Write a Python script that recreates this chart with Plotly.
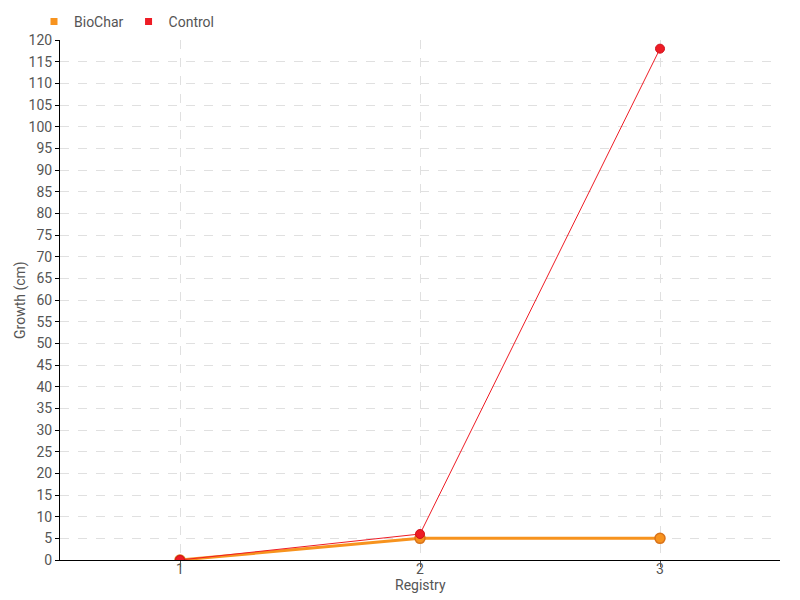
import plotly.graph_objects as go

registry = [1, 2, 3]
biochar = [0, 5, 5]
control = [0, 6, 118]

orange = "#f7931e"
red = "#ee1c25"
font_family = "Roboto, sans-serif"

fig = go.Figure()
fig.add_trace(go.Scatter(
    x=registry, y=biochar, name="BioChar", mode="lines+markers", showlegend=False,
    line=dict(color=orange, width=3),
    marker=dict(size=10, color=orange, line=dict(color="#d9731a", width=1.5)),
))
fig.add_trace(go.Scatter(
    x=registry, y=control, name="Control", mode="lines+markers", showlegend=False,
    line=dict(color=red, width=1),
    marker=dict(size=9, color=red, line=dict(color="#d0101a", width=1)),
))
# legend entries with square symbols
for name, col in [("BioChar", orange), ("Control", red)]:
    fig.add_trace(go.Scatter(
        x=[None], y=[None], name=name, mode="markers",
        marker=dict(symbol="square", size=7, color=col),
    ))

fig.update_layout(
    width=800, height=600,
    margin=dict(l=52, r=28, t=32, b=48),
    paper_bgcolor="white", plot_bgcolor="white",
    font=dict(family=font_family, size=14, color="#555555"),
    showlegend=True,
    legend=dict(orientation="h", x=0.0325, y=0.977, xref="container", yref="container",
                xanchor="left", yanchor="middle", font=dict(size=14, color="#555555"),
                itemwidth=30, tracegroupgap=0,
                bgcolor="rgba(0,0,0,0)"),
    xaxis=dict(
        range=[0.5, 3.5], tickvals=registry, ticktext=[str(v) for v in registry],
        showgrid=True, gridcolor="#e0e0e0", griddash="dash", gridwidth=1,
        showline=True, linecolor="black", linewidth=1,
        ticks="outside", ticklen=6, tickcolor="#555555",
        ticklabelstandoff=-10,
        zeroline=False, automargin=False,
    ),
    yaxis=dict(
        range=[0, 120], dtick=5,
        showgrid=True, gridcolor="#e0e0e0", griddash="dash", gridwidth=1,
        showline=True, linecolor="black", linewidth=1,
        ticks="outside", ticklen=4, tickcolor="black",
        zeroline=False, automargin=False,
    ),
    annotations=[
        dict(text="Registry", xref="paper", yref="paper", x=0.5, y=-0.0481,
             xanchor="center", yanchor="middle", showarrow=False,
             font=dict(size=14, color="#555555")),
        dict(text="Growth (cm)", xref="paper", yref="paper", x=-0.0556, y=0.5,
             xanchor="center", yanchor="middle", textangle=-90, showarrow=False,
             font=dict(size=14, color="#555555")),
    ],
)
fig.write_html("out.html")
